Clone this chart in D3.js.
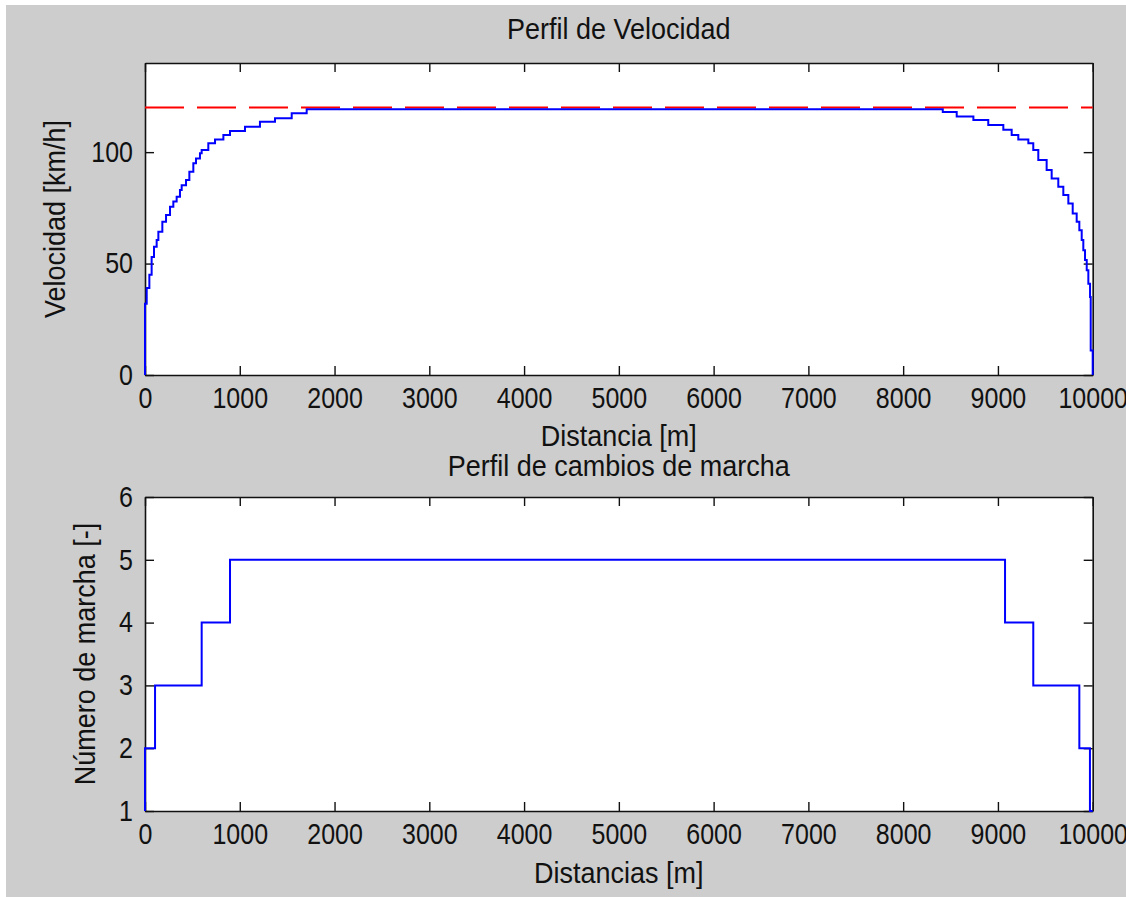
<!DOCTYPE html>
<html>
<head>
<meta charset="utf-8">
<script src="https://cdn.jsdelivr.net/npm/d3@7"></script>
<style>
  body { margin: 0; background: #fff; }
  text { font-family: "Liberation Sans", Arial, sans-serif; fill: #111; }
</style>
</head>
<body>
<div id="chart"></div>
<script>
// velocity profile: [distance m, speed km/h] breakpoints (stairs, step-after)
var speedDist = [0, 0, 18, 46, 70, 95, 123, 141, 183, 222, 264, 299, 334, 369, 387, 433, 468, 510, 538, 580, 598, 668, 739, 827, 897, 1055, 1213, 1372, 1548, 1706,
  8418, 8565, 8741, 8898, 9057, 9145, 9215, 9321, 9373, 9426, 9514, 9567, 9637, 9690, 9743, 9789, 9831, 9859, 9884, 9901, 9919, 9937, 9954, 9972, 9979, 10000];
var speedVal = [0, 32, 39, 45, 53, 57.6, 60.6, 64.3, 68.8, 71.8, 75.5, 77.8, 80, 83, 85.2, 87.5, 91.2, 95, 97.2, 99.5, 101, 104, 105.7, 107.7, 109.5, 111.4, 113.6, 115.2, 117.4, 119.2,
  118, 116, 114.4, 112.2, 110, 107.7, 105.7, 104, 101, 96.5, 92, 88.2, 84.5, 80.8, 77, 72.5, 68.8, 65, 60.6, 56, 51.6, 47, 41, 35, 11, 0];
var speedLimit = 120;

// gear profile
var gearDist = [0, 0, 106, 598, 897, 9075, 9373, 9859, 9971, 10000];
var gearVal = [1, 2, 3, 4, 5, 4, 3, 2, 1, 1];

var xTicks = [0, 1000, 2000, 3000, 4000, 5000, 6000, 7000, 8000, 9000, 10000];
var speedTicks = [0, 50, 100];
var gearTicks = [1, 2, 3, 4, 5, 6];

var width = 1126, height = 897;

var svg = d3.select("#chart").append("svg")
  .attr("width", width)
  .attr("height", height);

svg.append("rect").attr("x", 6).attr("y", 5).attr("width", width - 6).attr("height", height - 5).attr("fill", "#cdcdcd");

// text a bit taller than wide, like the old matlab bitmap font
function label(x, y, rot, str) {
  svg.append("text")
    .attr("transform", "translate(" + x + "," + y + ")" + (rot ? " rotate(-90)" : "") + " scale(1,1.12)")
    .attr("text-anchor", "middle").style("font-size", "27px").text(str);
}

function panel(top, bottom, yDomain, yTicks, title, xLabel, yLabel, labelX, titleY, xLabelY) {
  var left = 145, right = 1092.7;
  var x = d3.scaleLinear().domain([0, 10000]).range([left, right]);
  var y = d3.scaleLinear().domain(yDomain).range([bottom, top]);

  svg.append("rect").attr("x", left).attr("y", top)
    .attr("width", right - left).attr("height", bottom - top).attr("fill", "#fff");

  var g = svg.append("g");
  g.append("g").attr("transform", "translate(0," + bottom + ")")
    .call(d3.axisBottom(x).tickValues(xTicks).tickSizeInner(-9).tickSizeOuter(0).tickPadding(11).tickFormat(d3.format("d")));
  g.append("g").attr("transform", "translate(0," + top + ")")
    .call(d3.axisTop(x).tickValues(xTicks).tickSizeInner(-9).tickSizeOuter(0).tickFormat(""));
  g.append("g").attr("transform", "translate(" + left + ",0)")
    .call(d3.axisLeft(y).tickValues(yTicks).tickSizeInner(-9).tickSizeOuter(0).tickPadding(12).tickFormat(d3.format("d")));
  g.append("g").attr("transform", "translate(" + right + ",0)")
    .call(d3.axisRight(y).tickValues(yTicks).tickSizeInner(-9).tickSizeOuter(0).tickFormat(""));

  g.selectAll(".domain").attr("stroke", "#111").attr("stroke-width", 1.6);
  g.selectAll(".tick line").attr("stroke", "#111").attr("stroke-width", 1.4);
  g.selectAll(".tick text").style("font-size", "25px").attr("fill", "#111")
    .attr("transform", "scale(1,1.15)");

  label((left + right) / 2, titleY, false, title);
  label((left + right) / 2, xLabelY, false, xLabel);
  label(labelX, (top + bottom) / 2, true, yLabel);

  return { x: x, y: y };
}

var p1 = panel(63, 375, [0, 140], speedTicks, "Perfil de Velocidad", "Distancia [m]", "Velocidad [km/h]", 65, 39, 446);

svg.append("line")
  .attr("x1", p1.x(0)).attr("x2", p1.x(10000))
  .attr("y1", p1.y(speedLimit)).attr("y2", p1.y(speedLimit))
  .attr("stroke", "#ff0000").attr("stroke-width", 2).attr("stroke-dasharray", "39,13");

var speedLine = d3.line()
  .x(function (d, i) { return p1.x(speedDist[i]); })
  .y(function (d) { return p1.y(d); })
  .curve(d3.curveStepAfter);

svg.append("path").attr("d", speedLine(speedVal))
  .attr("fill", "none").attr("stroke", "#0000ff").attr("stroke-width", 2);

var p2 = panel(497, 811, [1, 6], gearTicks, "Perfil de cambios de marcha", "Distancias [m]", "Número de marcha [-]", 95, 476, 883);

var gearLine = d3.line()
  .x(function (d, i) { return p2.x(gearDist[i]); })
  .y(function (d) { return p2.y(d); })
  .curve(d3.curveStepAfter);

svg.append("path").attr("d", gearLine(gearVal))
  .attr("fill", "none").attr("stroke", "#0000ff").attr("stroke-width", 2);
</script>
</body>
</html>
